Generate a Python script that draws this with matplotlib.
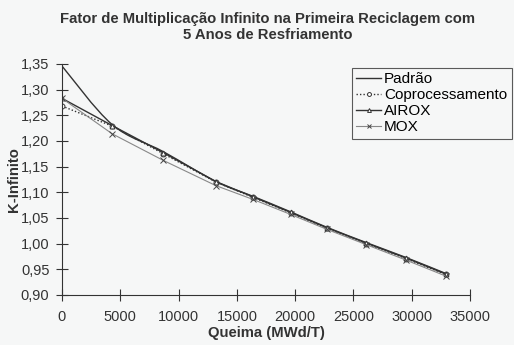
import matplotlib
matplotlib.use('Agg')
import matplotlib.pyplot as plt
from matplotlib.path import Path
from matplotlib.patches import PathPatch

# burnup points (MWd/T)
queima = [0, 4300, 8700, 13200, 16400, 19600, 22700, 26100, 29500, 32900]

padrao = [1.346, 1.232, 1.179, 1.121, 1.092, 1.062, 1.032, 1.002, 0.973, 0.942]
coproc = [1.268, 1.229, 1.175, 1.120, 1.090, 1.060, 1.030, 1.000, 0.971, 0.940]
airox = [1.283, 1.230, 1.177, 1.121, 1.091, 1.061, 1.031, 1.001, 0.972, 0.941]
mox = [1.283, 1.214, 1.162, 1.113, 1.086, 1.057, 1.028, 0.998, 0.968, 0.937]

yticks = [0.90, 0.95, 1.00, 1.05, 1.10, 1.15, 1.20, 1.25, 1.30, 1.35]
xticks = [0, 5000, 10000, 15000, 20000, 25000, 30000, 35000]


def smooth_path(x, y):
    # excel-style smoothed line: cubic bezier through the points
    verts = [(x[0], y[0])]
    codes = [Path.MOVETO]
    n = len(x)
    for i in range(n - 1):
        x0, y0 = (x[i - 1], y[i - 1]) if i > 0 else (x[i], y[i])
        x3, y3 = (x[i + 2], y[i + 2]) if i + 2 < n else (x[i + 1], y[i + 1])
        c1 = (x[i] + (x[i + 1] - x0) / 6, y[i] + (y[i + 1] - y0) / 6)
        c2 = (x[i + 1] - (x3 - x[i]) / 6, y[i + 1] - (y3 - y[i]) / 6)
        verts += [c1, c2, (x[i + 1], y[i + 1])]
        codes += [Path.CURVE4] * 3
    return Path(verts, codes)


plt.rcParams['font.family'] = ['Liberation Sans', 'DejaVu Sans']
bg = '#f6f7f7'
ink = '#333333'

fig = plt.figure(figsize=(5.14, 3.45), dpi=100, facecolor=bg)
ax = fig.add_axes([0.1206, 0.145, 0.794, 0.6696], facecolor=bg)

ax.add_patch(PathPatch(smooth_path(queima, padrao), fc='none', ec=ink, lw=1.0))
ax.plot([], [], color=ink, lw=1.0, label='Padrão')
ax.plot(queima, coproc, color=ink, lw=1.0, ls=(0, (1, 1.5)), marker='o', ms=3.5,
        mfc='white', mew=0.7, label='Coprocessamento')
ax.plot(queima, airox, color=ink, lw=1.0, marker='^', ms=3.5,
        mfc='white', mew=0.7, label='AIROX')
ax.plot(queima, mox, color='#888888', lw=0.8, marker='x', ms=4,
        mec='#444444', mew=0.7, label='MOX')

ax.set_xlim(0, 35000)
ax.set_ylim(0.90, 1.35)
ax.set_xticks(xticks)
ax.set_yticks(yticks)
ax.set_yticklabels([f'{v:.2f}'.replace('.', ',') for v in yticks])
ax.tick_params(direction='inout', length=8, width=0.8, labelsize=10.5, colors=ink)
ax.tick_params(axis='x', pad=7)
ax.tick_params(axis='y', pad=5)
for s in ['top', 'right']:
    ax.spines[s].set_visible(False)
for s in ['left', 'bottom']:
    ax.spines[s].set_color(ink)
    ax.spines[s].set_linewidth(0.8)

ax.set_xlabel('Queima (MWd/T)', fontsize=10.7, fontweight='bold', color=ink, labelpad=1.5)
ax.set_ylabel('K-Infinito', fontsize=10.7, fontweight='bold', color=ink, labelpad=0)
fig.text(0.52, 0.965, 'Fator de Multiplicação Infinito na Primeira Reciclagem com\n5 Anos de Resfriamento',
         ha='center', va='top', fontsize=10.7, fontweight='bold', color=ink, linespacing=1.2)

leg = ax.legend(loc='upper left', bbox_to_anchor=(0.71, 0.983), fontsize=11, frameon=True,
                fancybox=False, edgecolor=ink, facecolor=bg, handlelength=1.6,
                handletextpad=0.2, borderpad=0.3, labelspacing=0.12, borderaxespad=0,
                markerscale=0.8)
leg.get_frame().set_linewidth(0.8)

fig.savefig('out.png', dpi=100, facecolor=bg)
